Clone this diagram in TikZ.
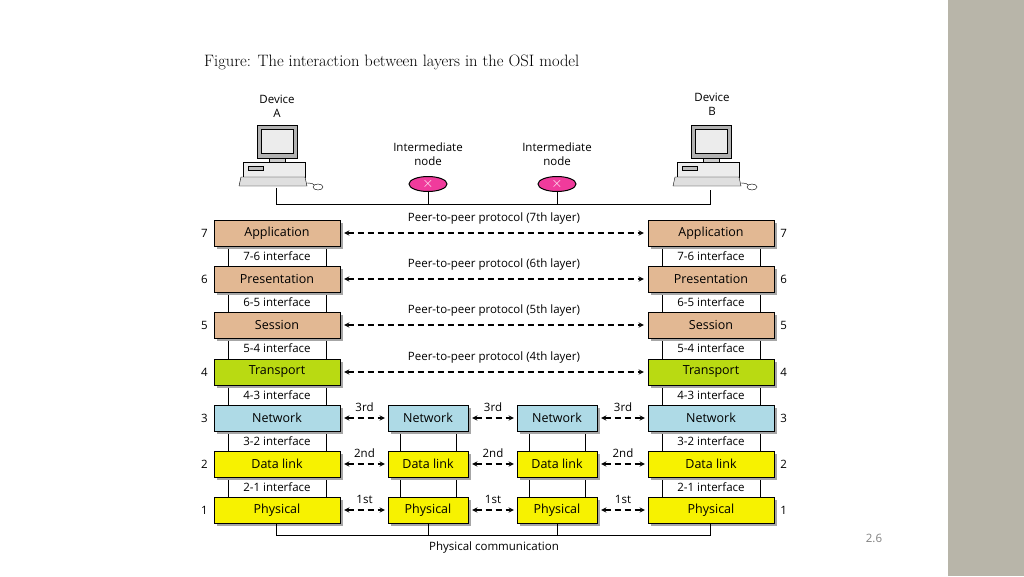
\documentclass[tikz,border=0pt]{standalone}
\usepackage{fontspec}
\newfontfamily\diag{Open Sans}
\usetikzlibrary{shapes,arrows,shadows,positioning}
\definecolor{tan}{HTML}{E2B893}
\definecolor{lime}{HTML}{B9DA12}
\definecolor{sky}{HTML}{AEDAE6}
\definecolor{yel}{HTML}{F7F200}
\definecolor{barg}{HTML}{B8B5A9}
\newcommand{\pcdraw}[1]{% computer, origin at monitor top-left
	\begin{scope}[shift={#1}]
		\draw[fill=gray!60] (0,0) rectangle (40,33);
		\draw[fill=white!85!gray] (4,4) rectangle (36,28);
		\draw[fill=gray!40] (12,33) rectangle (28,37);
		\draw[fill=gray!15] (-14,37) rectangle (48,52);
		\draw[fill=gray!50] (-9,41) rectangle (6,45);
		\draw[fill=gray!25] (-16,52) -- (48,52) -- (50,61) -- (-18,61) -- cycle;
		\draw (50,58) to[out=0,in=90] (58,62);
		\draw[fill=white] (61,62) ellipse (5 and 3);
	\end{scope}}
\begin{document}
\begin{tikzpicture}[x=1pt,y=-1pt,
		every node/.style={font=\diag\fontsize{11.5}{14}\selectfont, align=center, inner sep=0pt},
		layer/.style={rectangle, draw=black, minimum width=126pt, minimum height=26pt,
			font=\diag\fontsize{12.5}{14}\selectfont,
			drop shadow={shadow xshift=2.5pt, shadow yshift=-2.5pt, fill=gray!70, opacity=1}},
		relay/.style={layer, minimum width=80pt},
		iface/.style={rectangle, draw=black, fill=white, minimum width=98pt, minimum height=22pt},
		gap/.style={rectangle, draw=black, fill=white, minimum width=56pt, minimum height=22pt},
		peer/.style={<->, >=stealth, line width=1.3pt, dash pattern=on 6pt off 4pt},
		router/.style={ellipse, draw=black, line width=1pt, fill=magenta!70!pink, minimum width=38pt, minimum height=15pt}
	]
	\useasboundingbox (0,0) rectangle (1024,576);
	\fill[barg] (948,0) rectangle (1024,576);
	\node[font=\fontsize{16.5}{19}\selectfont, anchor=west] (title) at (204,62) {Figure: The interaction between layers in the OSI model};
	\node[text=gray] (page) at (874,538) {2.6};

	% devices and intermediate nodes
	\node (devA) at (277,106) {Device\\A};
	\node (devB) at (712,104) {Device\\B};
	\pcdraw{(257,125)}
	\pcdraw{(691,125)}
	\node (imA) at (428,154) {Intermediate\\node};
	\node (imB) at (557,154) {Intermediate\\node};
	\coordinate (linkA) at (276,204);
	\coordinate (linkB) at (710,204);
	\draw[thick] (276,188) -- (linkA) -- (linkB) -- (710,190);
	\draw[thick] (428,192) -- (428,204) (557,192) -- (557,204);
	\node[router] (rA) at (428,184) {\textcolor{white}{\Large$\times$}};
	\node[router] (rB) at (557,184) {\textcolor{white}{\Large$\times$}};

	% interfaces
	\foreach \y/\t in {256/7-6,302/6-5,348/5-4,395/4-3,441/3-2,487/2-1}{
		\node[iface] (ifL\y) at (277,\y) {\t\ interface};
		\node[iface] (ifR\y) at (711,\y) {\t\ interface};
	}
	\foreach \y in {441,487}{
		\node[gap] (gA\y) at (428,\y) {};
		\node[gap] (gB\y) at (557,\y) {};
	}

	% layers
	\foreach \n/\y/\t/\c in {7/233/Application/tan,6/279/Presentation/tan,5/325/Session/tan,
		4/372/Transport/lime,3/418/Network/sky,2/464/Data link/yel,1/510/Physical/yel}{
		\node[layer, fill=\c] (L\n) at (277,\y) {\t};
		\node[layer, fill=\c] (R\n) at (711,\y) {\t};
		\node[left=6pt of L\n] (nL\n) {\n};
		\node[right=6pt of R\n] (nR\n) {\n};
	}
	\foreach \n/\y/\t/\c in {3/418/Network/sky,2/464/Data link/yel,1/510/Physical/yel}{
		\node[relay, fill=\c] (A\n) at (428,\y) {\t};
		\node[relay, fill=\c] (B\n) at (557,\y) {\t};
	}

	% peer-to-peer protocols
	\foreach \n/\o in {7/7th,6/6th,5/5th,4/4th}{
		\draw[peer] ([xshift=4pt]L\n.east) -- node[above=8pt] {Peer-to-peer protocol (\o\ layer)} ([xshift=-4pt]R\n.west);
	}
	\foreach \n/\o in {3/3rd,2/2nd,1/1st}{
		\draw[peer] ([xshift=4pt]L\n.east) -- node[above=6pt] {\o} ([xshift=-3pt]A\n.west);
		\draw[peer] ([xshift=4pt]A\n.east) -- node[above=6pt] {\o} ([xshift=-3pt]B\n.west);
		\draw[peer] ([xshift=4pt]B\n.east) -- node[above=6pt] {\o} ([xshift=-3pt]R\n.west);
	}

	% physical communication
	\draw[thick] (L1.south -| 276,0) -- (276,535) -- (710,535) -- (R1.south -| 710,0);
	\draw[thick] (A1.south) -- (428,535) (B1.south) -- (557,535);
	\node (phys) at (494,548) {Physical communication};
\end{tikzpicture}
\end{document}
